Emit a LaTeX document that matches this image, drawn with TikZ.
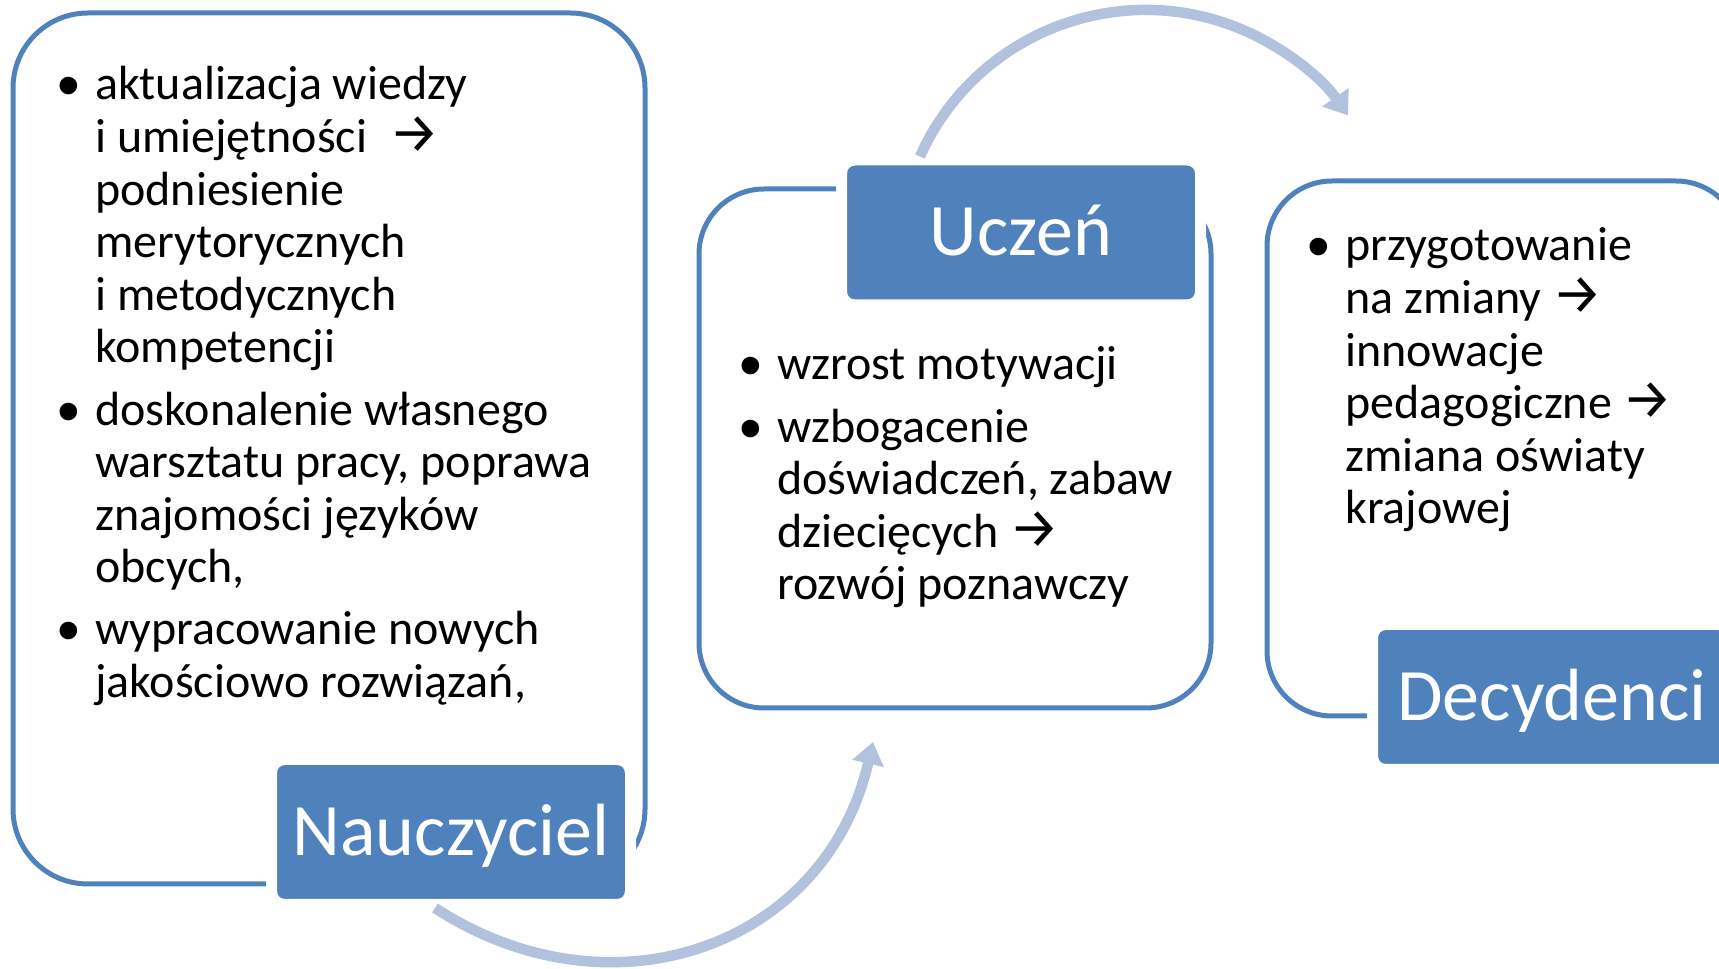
\documentclass[tikz,border=0pt]{standalone}
\usepackage{fontspec}
\setmainfont{Carlito}
\newfontfamily\strzfont{Fira Sans}
\newfontfamily\punktfont{Liberation Sans}
\usepackage{tikz}
\usetikzlibrary{arrows.meta}

\definecolor{akcent}{HTML}{4F81BD}
\definecolor{jasny}{HTML}{B2C2DE}

\newcommand{\strz}{{\strzfont\fontsize{56}{52.6}\selectfont →}}
\newcommand{\pkt}{\raisebox{-8pt}{\scalebox{1.35}{\punktfont •}}}

\begin{document}
\begin{tikzpicture}
		[x=1pt, y=1pt,
		ramka/.style={draw=akcent, line width=5pt, outer sep=0pt},
		etykieta/.style={rectangle, rounded corners=13pt, fill=akcent, draw=white, line width=11pt, outer sep=0pt, minimum width=359pt, minimum height=145pt, text=white, font=\fontsize{74}{86}\selectfont, text height=47pt, text depth=0pt},
		opis/.style={anchor=base west, inner sep=0pt, font=\fontsize{48}{52.6}\selectfont},
		strzalka/.style={draw=jasny, line width=10.5pt, -{Triangle[width=31pt,length=22pt]}}]
		\useasboundingbox (0,0) rectangle (1719,969);
		\clip (0,0) rectangle (1719,969);

		\node[ramka, minimum width=632pt, minimum height=871pt, rounded corners=75pt] (rnaucz) at (329,520.5) {};
		\node[ramka, minimum width=512pt, minimum height=519pt, rounded corners=65pt] (rucz) at (955,520.5) {};
		\node[ramka, minimum width=474pt, minimum height=535pt, rounded corners=65pt] (rdecyd) at (1504,520.5) {};

		\node[etykieta] (naucz) at (451,137) {Nauczyciel};
		\node[etykieta] (ucz) at (1021,736.5) {Uczeń};
		\node[etykieta] (decyd) at (1552,272) {Decydenci};

		\node[opis] (tnaucz) at (57,869) {\begin{tabular}[t]{@{}p{38pt}@{}l@{}}
			\pkt & aktualizacja wiedzy\\
			& i umiejętności\ \ \strz\\
			& podniesienie\\
			& merytorycznych\\
			& i metodycznych\\
			& kompetencji\\[9.5pt]
			\pkt & doskonalenie własnego\\
			& warsztatu pracy, poprawa\\
			& znajomości języków\\
			& obcych,\\[9.5pt]
			\pkt & wypracowanie nowych\\
			& jakościowo rozwiązań,
		\end{tabular}};
		\node[opis] (tucz) at (739,589) {\begin{tabular}[t]{@{}p{38pt}@{}l@{}}
			\pkt & wzrost motywacji\\[9.5pt]
			\pkt & wzbogacenie\\
			& doświadczeń, zabaw\\
			& dziecięcych \strz\\
			& rozwój poznawczy
		\end{tabular}};
		\node[opis] (tdecyd) at (1307,708) {\begin{tabular}[t]{@{}p{38pt}@{}l@{}}
			\pkt & przygotowanie\\
			& na zmiany \strz\\
			& innowacje\\
			& pedagogiczne \strz\\
			& zmiana oświaty\\
			& krajowej
		\end{tabular}};

		\draw[strzalka] ([xshift=-16pt,yshift=-3.5pt]naucz.south) to[out=-33, in=-103, looseness=1.15] ([xshift=-82pt,yshift=-34pt]rucz.south);
		\draw[strzalka] ([xshift=-101pt,yshift=3.5pt]ucz.north) arc[start angle=156, end angle=35, radius=247];
\end{tikzpicture}
\end{document}
